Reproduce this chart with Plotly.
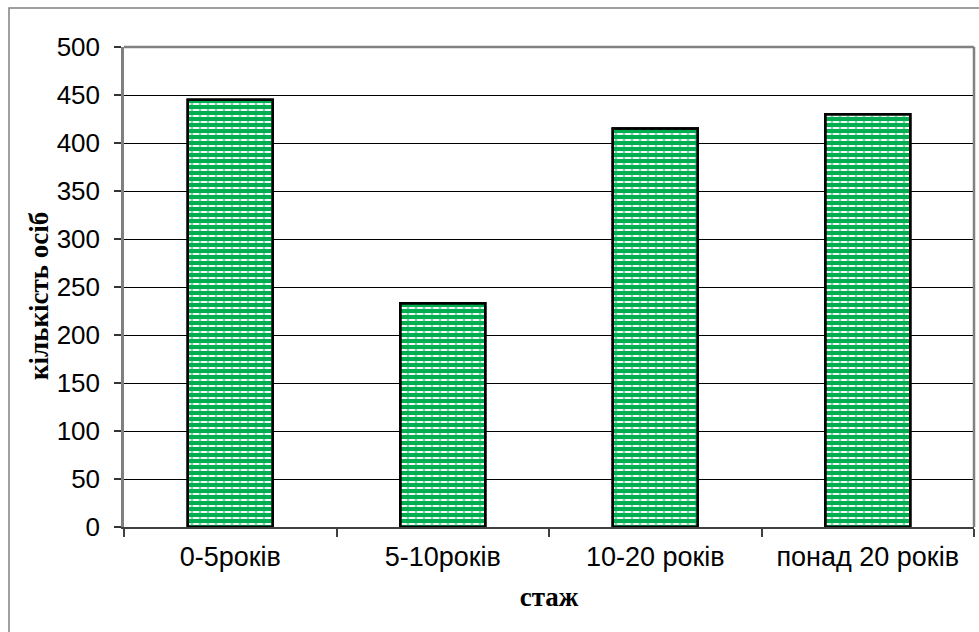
import plotly.graph_objects as go

# Work-experience groups and head counts
categories = ["0-5років", "5-10років", "10-20 років", "понад 20 років"]
counts = [445, 233, 415, 430]
y_ticks = list(range(0, 501, 50))

GREEN = "#00AD50"
W, H = 979, 632
L, R, T, B = 124, 5, 47, 105
pw, ph = W - L - R, H - T - B

fig = go.Figure()

# Green bars with white horizontal stripes
fig.add_trace(go.Bar(
    x=categories, y=counts,
    marker=dict(
        color=GREEN,
        line=dict(color="black", width=2.5),
        pattern=dict(shape="-", fgcolor="white", bgcolor=GREEN,
                     size=6, solidity=0.32, fillmode="replace"),
    ),
    hoverinfo="skip",
))
# Same bars again, with green vertical strokes that break the stripes into dashes
fig.add_trace(go.Bar(
    x=categories, y=counts,
    marker=dict(
        color="rgba(0,0,0,0)",
        line=dict(color="black", width=2.5),
        pattern=dict(shape="|", fgcolor=GREEN, size=8, solidity=0.3,
                     fillmode="overlay"),
    ),
    hoverinfo="skip",
))


def px_x(v):
    return (v - L) / pw


def px_y(v):
    return (H - B - v) / ph


shapes = [
    # outer chart frame
    dict(type="rect", xref="paper", yref="paper",
         x0=px_x(9), x1=px_x(990), y0=px_y(8), y1=px_y(645),
         line=dict(color="#808080", width=1.5), layer="below"),
    # plot area top and right edges
    dict(type="line", xref="paper", yref="paper", x0=0, x1=1, y0=1, y1=1,
         line=dict(color="#808080", width=2.5)),
    dict(type="line", xref="paper", yref="paper", x0=1, x1=1, y0=0, y1=1,
         line=dict(color="#808080", width=2.5)),
]

# Rotated y-axis title
annotations = [
    dict(text="<b>кількість осіб</b>", xref="paper", yref="paper",
         x=px_x(39), y=px_y(296), xanchor="center", yanchor="middle",
         textangle=-90, showarrow=False,
         font=dict(size=27, family="Liberation Serif, Times New Roman",
                   color="black")),
]

fig.update_layout(
    width=W, height=H,
    margin=dict(l=L, r=R, t=T, b=B, pad=0),
    paper_bgcolor="white", plot_bgcolor="white",
    barmode="overlay", bargap=0.6,
    showlegend=False,
    shapes=shapes,
    annotations=annotations,
    font=dict(family="Liberation Sans, Arial", color="black"),
    xaxis=dict(
        type="category",
        showline=True, linecolor="#404040", linewidth=2,
        ticks="outside", ticklen=8, tickwidth=1.5, tickcolor="#404040",
        tickson="boundaries",
        showgrid=False,
        tickfont=dict(size=27, family="Liberation Sans, Arial"),
        ticklabelstandoff=5,
        title=dict(text="стаж", standoff=16,
                   font=dict(size=27, family="Liberation Serif, Times New Roman",
                             weight="bold")),
    ),
    yaxis=dict(
        range=[0, 500], tickvals=y_ticks,
        showline=True, linecolor="#808080", linewidth=2.5,
        ticks="outside", ticklen=7, tickwidth=1.5, tickcolor="#333333",
        showgrid=True, gridcolor="black", gridwidth=1,
        zeroline=False,
        tickfont=dict(size=26, family="Liberation Sans, Arial"),
        ticklabelstandoff=9,
    ),
)

fig.write_html("out.html")
